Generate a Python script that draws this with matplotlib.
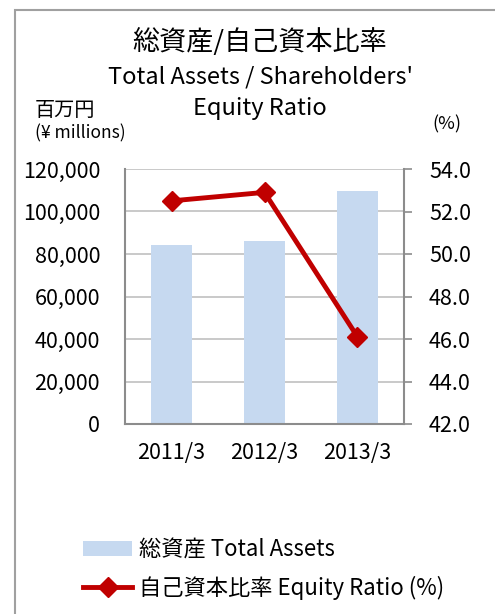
import numpy as np
import matplotlib.pyplot as plt
from matplotlib.patches import Rectangle
from matplotlib.ticker import FuncFormatter

plt.rcParams['font.family'] = ['Noto Sans CJK JP', 'DejaVu Sans']

years = ['2011/3', '2012/3', '2013/3']
total_assets = [84200, 86100, 109600]   # ¥ millions
equity_ratio = [52.5, 52.9, 46.1]       # %

bar_color = '#C6D9F0'
line_color = '#C00000'
axis_gray = '#8C8C8C'

fig = plt.figure(figsize=(4.95, 6.14), dpi=100)

# outer frame (cut off at the right and bottom edges)
fig.patches.append(Rectangle((15 / 495, -0.05), 1.0, 1 - 10 / 614 + 0.05,
                             transform=fig.transFigure, fill=False,
                             edgecolor='#A0A0A0', linewidth=1.5))

ax = fig.add_axes([125 / 495, 1 - 424 / 614, 279 / 495, 255 / 614])
x = np.arange(len(years))
ax.bar(x, total_assets, width=0.44, color=bar_color, zorder=2,
       label='総資産 Total Assets')
ax.set_xlim(-0.5, 2.5)
ax.set_ylim(0, 120000)
ax.set_yticks(np.arange(0, 120001, 20000))
ax.yaxis.set_major_formatter(FuncFormatter(lambda v, p: f'{int(v):,}'))
ax.set_xticks(x)
ax.set_xticklabels(years)
ax.grid(axis='y', color='#C0C0C0', linewidth=1.2, zorder=0)
ax.set_axisbelow(True)
ax.tick_params(axis='y', length=0, pad=18, labelsize=15.5)
ax.tick_params(axis='x', length=0, pad=13, labelsize=15.5)
for s in ['left', 'bottom']:
    ax.spines[s].set_color(axis_gray)
    ax.spines[s].set_linewidth(1.5)
ax.spines['top'].set_visible(False)
ax.spines['right'].set_visible(False)

ax2 = ax.twinx()
ax2.plot(x, equity_ratio, color=line_color, linewidth=3.5, marker='D',
         markersize=10, zorder=3, label='自己資本比率 Equity Ratio (%)')
ax2.set_ylim(42, 54)
ax2.set_yticks(np.arange(42, 54.1, 2))
ax2.yaxis.set_major_formatter(FuncFormatter(lambda v, p: f'{v:.1f}'))
ax2.tick_params(axis='y', length=6, width=1.2, color=axis_gray, pad=12,
                labelsize=15.5)
ax2.spines['right'].set_color(axis_gray)
ax2.spines['right'].set_linewidth(1.5)
for s in ['left', 'top', 'bottom']:
    ax2.spines[s].set_visible(False)

# titles and unit labels
fig.text(260 / 495, 1 - 42 / 614, '総資産/自己資本比率', ha='center', va='center',
         fontsize=19.5)
fig.text(260 / 495, 1 - 77 / 614, "Total Assets / Shareholders'",
         ha='center', va='center', fontsize=17)
fig.text(260 / 495, 1 - 109 / 614, 'Equity Ratio', ha='center', va='center',
         fontsize=17)
fig.text(35 / 495, 1 - 110 / 614, '百万円', ha='left', va='center',
         fontsize=14.5)
fig.text(35 / 495, 1 - 133 / 614, '(¥ millions)', ha='left', va='center',
         fontsize=12.5)
fig.text(447 / 495, 1 - 124 / 614, '(%)', ha='center', va='center',
         fontsize=13)

h1, l1 = ax.get_legend_handles_labels()
h2, l2 = ax2.get_legend_handles_labels()
fig.legend(h1 + h2, l1 + l2, loc='upper left',
           bbox_to_anchor=(72 / 495, 1 - 527 / 614), frameon=False,
           fontsize=16, handlelength=2.2, handletextpad=0.3,
           labelspacing=0.65, borderpad=0)

fig.savefig('out.png', dpi=100)
